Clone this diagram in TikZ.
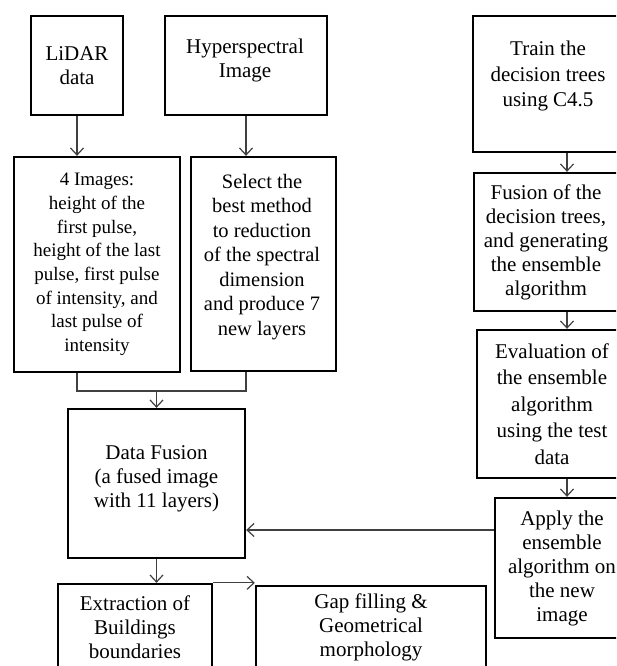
\documentclass[tikz,border=0pt]{standalone}
\usepackage{fontspec}
\setmainfont{Liberation Serif}
\usetikzlibrary{arrows.meta}
\begin{document}
\begin{tikzpicture}[x=1pt,y=-1pt,
  box/.style={draw=black,line width=2.3pt,inner sep=0pt,align=center,
    font=\fontsize{21}{24}\selectfont},
  txt/.style={inner sep=0pt,align=center,font=\fontsize{21}{24}\selectfont},
  conn/.style={draw=black!75,line width=1.2pt},
  arr/.style={conn,-{Straight Barb[length=7pt,width=13pt,line width=1.2pt]}}]
\useasboundingbox (0,0) rectangle (616,666);
\clip (0,0) rectangle (616,666);
% boxes
\node[box,minimum width=92pt,minimum height=99pt] (lidar) at (77,65.5) {LiDAR\\data};
\node[box,minimum width=162pt,minimum height=99pt] (hyper) at (246,65.5) {};
\node[txt] (hypert) at (245,60) {Hyperspectral\\Image};
\node[box,minimum width=166pt,minimum height=215pt,
  font=\fontsize{19}{23.7}\selectfont] (img4) at (97,264.5)
  {4 Images:\\height of the\\first pulse,\\height of the last\\pulse, first pulse\\of intensity, and\\last pulse of\\intensity};
\node[box,minimum width=145pt,minimum height=214pt] (sel) at (263.5,264) {};
\node[txt,font=\fontsize{20.5}{24.5}\selectfont] (selt) at (262,257)
  {Select the\\best method\\to reduction\\of the spectral\\dimension\\and produce 7\\new layers};
\node[box,minimum width=150pt,minimum height=136pt] (train) at (548,84) {};
\node[txt,font=\fontsize{21}{25.5}\selectfont] (traint) at (548,76) {Train the\\decision trees\\using C4.5};
\node[box,minimum width=144pt,minimum height=138pt] (fusion) at (546,242)
  {Fusion of the\\decision trees,\\and generating\\the ensemble\\algorithm};
\node[box,minimum width=150pt,minimum height=148pt,
  font=\fontsize{21}{26.5}\selectfont] (eval) at (552,404)
  {Evaluation of\\the ensemble\\algorithm\\using the test\\data};
\node[box,minimum width=134pt,minimum height=140pt] (apply) at (562,568)
  {Apply the\\ensemble\\algorithm on\\the new\\image};
\node[box,minimum width=177pt,minimum height=149pt] (df) at (156.5,483.5) {};
\node[txt] (dft) at (156.5,479) {Data Fusion\\(a fused image\\with 11 layers)};
\node[box,minimum width=154pt,minimum height=86pt] (ext) at (135,627)
  {Extraction of\\Buildings\\boundaries};
\node[box,minimum width=230pt,minimum height=82pt] (gap) at (371,627)
  {Gap filling \&\\Geometrical\\morphology};
% helper coordinates
\coordinate (rx) at (567,0);
\coordinate (my) at (0,391);
\coordinate (ay) at (0,530);
% connectors
\draw[arr] (lidar.south) -- (lidar.south |- img4.north);
\draw[arr] (hyper.south) -- (hyper.south |- sel.north);
\draw[conn] (lidar.south |- img4.south) -- (lidar.south |- my) -- (hyper.south |- my) -- (hyper.south |- sel.south);
\draw[arr] (df.north |- my) -- (df.north);
\draw[arr] (train.south -| rx) -- (fusion.north -| rx);
\draw[arr] (fusion.south -| rx) -- (eval.north -| rx);
\draw[arr] (eval.south -| rx) -- (apply.north -| rx);
\draw[arr] (apply.west |- ay) -- (df.east |- ay);
\draw[arr] (df.south) -- (df.south |- ext.north);
\draw[arr] (ext.north east) -- (ext.north east -| gap.west);
\end{tikzpicture}
\end{document}
